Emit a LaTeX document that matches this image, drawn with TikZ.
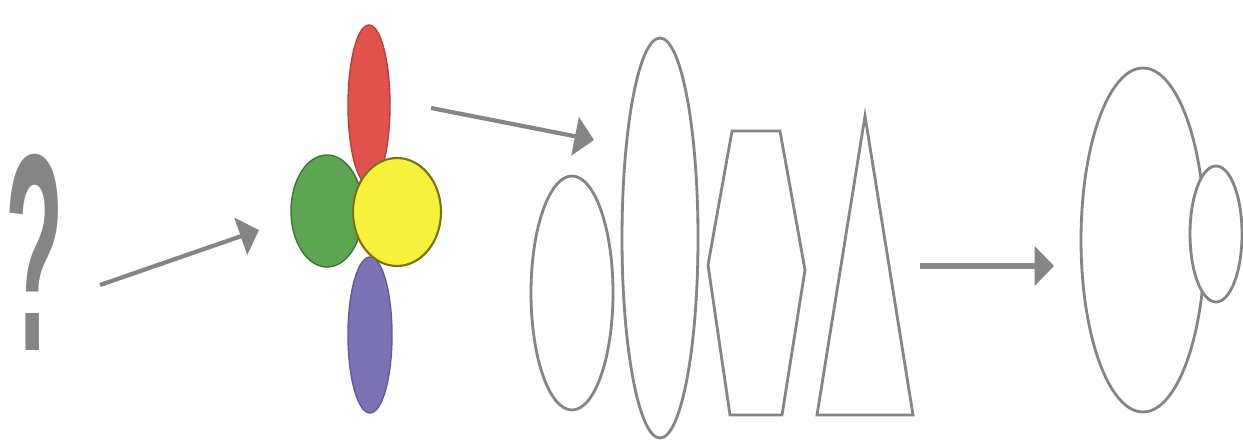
\documentclass[tikz,border=0pt]{standalone}
\usepackage{fontspec}
\newfontfamily\qfont{Liberation Sans}
\usetikzlibrary{arrows.meta}
\definecolor{ln}{HTML}{858585}
\definecolor{petred}{HTML}{E2524C}
\definecolor{petpurple}{HTML}{7C72B6}
\definecolor{petgreen}{HTML}{5DA552}
\definecolor{petyellow}{HTML}{F6F23C}
\tikzset{
  outline/.style={draw=ln, line width=1.6pt},
  conn/.style={draw=ln, line width=2.4pt, -{Triangle[length=11pt,width=22pt]}},
  petal/.style={line width=0.8pt},
}
\begin{document}
\begin{tikzpicture}[x=0.02cm,y=-0.02cm]
\useasboundingbox[fill=white] (0,0) rectangle (1243,442);
% question mark
\node[text=ln, font=\qfont\bfseries\fontsize{160}{160}\selectfont, xscale=0.34, inner sep=0pt] (q) at (35,252) {?};
% flower
\fill[petred, draw=petred!80!black, petal] (369,105) ellipse [x radius=21, y radius=80];
\fill[petpurple, draw=petpurple!80!black, petal] (370,335) ellipse [x radius=22, y radius=78];
\fill[petgreen, draw=petgreen!70!black, petal] (327,211) ellipse [x radius=36, y radius=56];
\fill[petyellow, draw=olive!80!black, line width=1.2pt] (397,212) ellipse [x radius=44, y radius=54];
% arrows endpoints
\coordinate (a1s) at (100,285);
\coordinate (a1e) at (259,230);
\coordinate (a2s) at (431,108);
\coordinate (a2e) at (594,140);
\coordinate (a3s) at (920,266);
\coordinate (a3e) at (1054,266);
\draw[conn] (a1s) -- (a1e);
\draw[conn] (a2s) -- (a2e);
\draw[conn, line width=3.2pt] (a3s) -- (a3e);
% shapes
\draw[outline] (572,293) ellipse [x radius=41, y radius=117];
\draw[outline] (660,238) ellipse [x radius=38, y radius=200];
\draw[outline] (732,131) -- (780,131) -- (805,270) -- (782,415) -- (730,415) -- (708,265) -- cycle;
\draw[outline] (865,116) -- (913,415) -- (817,415) -- cycle;
% eye
\draw[outline] (1143,240) ellipse [x radius=62, y radius=172];
\filldraw[outline, fill=white] (1216,234) ellipse [x radius=26, y radius=68];
\end{tikzpicture}
\end{document}
